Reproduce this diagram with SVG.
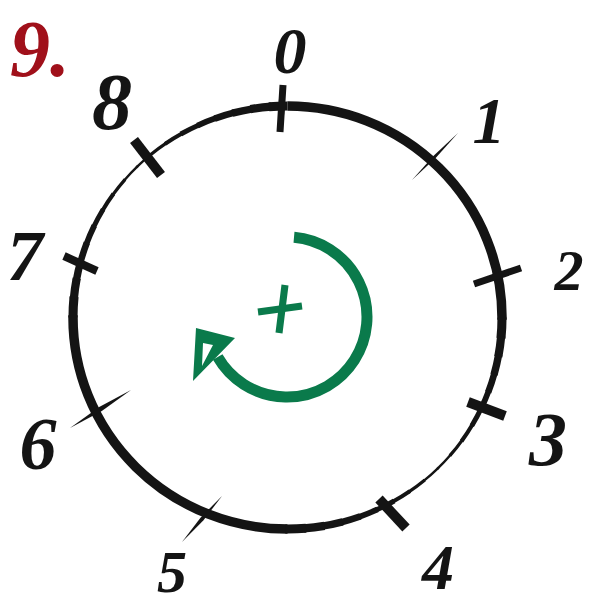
<svg xmlns="http://www.w3.org/2000/svg" width="595" height="606" viewBox="0 0 595 606">
<style>
.lbl{font-family:"Liberation Serif","DejaVu Serif",serif;font-style:italic;font-weight:bold;fill:#141414;text-anchor:middle}
.bar{stroke:#141414;stroke-linecap:butt;fill:none}
.thin{fill:#141414}
.grn{stroke:#0a7a4b;fill:none}
.seg{fill:none;stroke:#141414;stroke-dasharray:5.6 354.4}
.thick{fill:none;stroke:#141414;stroke-width:9.5;stroke-dasharray:90.6 269.4}
</style>
<defs>
<ellipse id="rg" cx="287.5" cy="317.5" rx="211.5" ry="214.5" pathLength="360" transform="rotate(-90 287.5 317.5)"/>
</defs>
<rect width="595" height="606" fill="#ffffff"/>
<g id="title">
<text x="10" y="76" font-family="Liberation Serif, DejaVu Serif, serif" font-style="italic" font-weight="bold" font-size="80" fill="#a0101a">9.</text>
</g>
<g id="ring">
<use href="#rg" class="thick" style="stroke-dashoffset:0"/>
<use href="#rg" class="thick" style="stroke-dashoffset:-180"/>
<use href="#rg" class="seg" style="stroke-width:9.08;stroke-dashoffset:-90"/>
<use href="#rg" class="seg" style="stroke-width:8.25;stroke-dashoffset:-95"/>
<use href="#rg" class="seg" style="stroke-width:7.42;stroke-dashoffset:-100"/>
<use href="#rg" class="seg" style="stroke-width:6.58;stroke-dashoffset:-105"/>
<use href="#rg" class="seg" style="stroke-width:5.75;stroke-dashoffset:-110"/>
<use href="#rg" class="seg" style="stroke-width:4.92;stroke-dashoffset:-115"/>
<use href="#rg" class="seg" style="stroke-width:4.08;stroke-dashoffset:-120"/>
<use href="#rg" class="seg" style="stroke-width:3.25;stroke-dashoffset:-125"/>
<use href="#rg" class="seg" style="stroke-width:2.42;stroke-dashoffset:-130"/>
<use href="#rg" class="seg" style="stroke-width:2.42;stroke-dashoffset:-135"/>
<use href="#rg" class="seg" style="stroke-width:3.25;stroke-dashoffset:-140"/>
<use href="#rg" class="seg" style="stroke-width:4.08;stroke-dashoffset:-145"/>
<use href="#rg" class="seg" style="stroke-width:4.92;stroke-dashoffset:-150"/>
<use href="#rg" class="seg" style="stroke-width:5.75;stroke-dashoffset:-155"/>
<use href="#rg" class="seg" style="stroke-width:6.58;stroke-dashoffset:-160"/>
<use href="#rg" class="seg" style="stroke-width:7.42;stroke-dashoffset:-165"/>
<use href="#rg" class="seg" style="stroke-width:8.25;stroke-dashoffset:-170"/>
<use href="#rg" class="seg" style="stroke-width:9.08;stroke-dashoffset:-175"/>
<use href="#rg" class="seg" style="stroke-width:9.08;stroke-dashoffset:-270"/>
<use href="#rg" class="seg" style="stroke-width:8.25;stroke-dashoffset:-275"/>
<use href="#rg" class="seg" style="stroke-width:7.42;stroke-dashoffset:-280"/>
<use href="#rg" class="seg" style="stroke-width:6.58;stroke-dashoffset:-285"/>
<use href="#rg" class="seg" style="stroke-width:5.75;stroke-dashoffset:-290"/>
<use href="#rg" class="seg" style="stroke-width:4.92;stroke-dashoffset:-295"/>
<use href="#rg" class="seg" style="stroke-width:4.08;stroke-dashoffset:-300"/>
<use href="#rg" class="seg" style="stroke-width:3.25;stroke-dashoffset:-305"/>
<use href="#rg" class="seg" style="stroke-width:2.42;stroke-dashoffset:-310"/>
<use href="#rg" class="seg" style="stroke-width:2.42;stroke-dashoffset:-315"/>
<use href="#rg" class="seg" style="stroke-width:3.25;stroke-dashoffset:-320"/>
<use href="#rg" class="seg" style="stroke-width:4.08;stroke-dashoffset:-325"/>
<use href="#rg" class="seg" style="stroke-width:4.92;stroke-dashoffset:-330"/>
<use href="#rg" class="seg" style="stroke-width:5.75;stroke-dashoffset:-335"/>
<use href="#rg" class="seg" style="stroke-width:6.58;stroke-dashoffset:-340"/>
<use href="#rg" class="seg" style="stroke-width:7.42;stroke-dashoffset:-345"/>
<use href="#rg" class="seg" style="stroke-width:8.25;stroke-dashoffset:-350"/>
<use href="#rg" class="seg" style="stroke-width:9.08;stroke-dasharray:5 355;stroke-dashoffset:-355"/>
</g>
<g id="connectors">
<g id="tick0"><line class="bar" x1="283" y1="85" x2="280" y2="132" stroke-width="7"/></g>
<g id="tick1"><polygon class="thin" points="412,180 436.1,157.5 458,133 433.9,155.5"/></g>
<g id="tick2"><line class="bar" x1="474" y1="284" x2="521" y2="268" stroke-width="7"/></g>
<g id="tick3"><line class="bar" x1="468" y1="402" x2="505" y2="416" stroke-width="10"/></g>
<g id="tick4"><line class="bar" x1="379" y1="499" x2="406" y2="528" stroke-width="10"/></g>
<g id="tick5"><polygon class="thin" points="182,542 203.5,520.3 222,496 200.5,517.7"/></g>
<g id="tick6"><polygon class="thin" points="70,428 101.8,411.1 131,390 99.2,406.9"/></g>
<g id="tick7"><line class="bar" x1="64" y1="256" x2="97" y2="271" stroke-width="8"/></g>
<g id="tick8"><line class="bar" x1="134" y1="140" x2="161" y2="175" stroke-width="10"/></g>
</g>
<g id="label0"><text class="lbl" x="290" y="73" font-size="66">0</text></g>
<g id="label1"><text class="lbl" x="489" y="143" font-size="66">1</text></g>
<g id="label2"><text class="lbl" x="569" y="290" font-size="58">2</text></g>
<g id="label3"><text class="lbl" x="548" y="465" font-size="76">3</text></g>
<g id="label4"><text class="lbl" x="438" y="589" font-size="64">4</text></g>
<g id="label5"><text class="lbl" x="172" y="592" font-size="60">5</text></g>
<g id="label6"><text class="lbl" x="38" y="469" font-size="74">6</text></g>
<g id="label7"><text class="lbl" x="25" y="280" font-size="72">7</text></g>
<g id="label8"><text class="lbl" x="112" y="129" font-size="80">8</text></g>
<g id="rotation">
<path class="grn" stroke-width="11" stroke-linecap="butt" d="M 294 237.3 A 80 80 0 1 1 217.7 357"/>
<path fill="#0a7a4b" fill-rule="evenodd" d="M196,328 L193,381 L235,338 Z M203,343 L202,366 L213,345 Z"/>
<line class="grn" x1="258" y1="312" x2="302" y2="306" stroke-width="7"/>
<line class="grn" x1="285" y1="285" x2="279" y2="333" stroke-width="7"/>
</g>
</svg>
